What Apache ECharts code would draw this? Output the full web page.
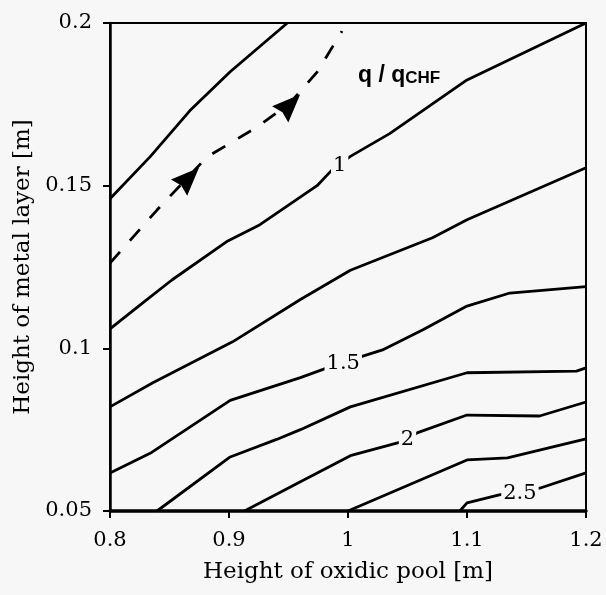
<!DOCTYPE html>
<html>
<head>
<meta charset="utf-8">
<script src="https://cdn.jsdelivr.net/npm/echarts@6/dist/echarts.min.js"></script>
<style>
  html, body { margin: 0; padding: 0; background: #f7f7f7; }
  #chart { width: 606px; height: 595px; }
</style>
</head>
<body>
<div id="chart"></div>
<script>
// contour lines of q/qCHF, [oxidic pool height, metal layer height]
var lvl075 = [[0.8, 0.146], [0.834, 0.159], [0.867, 0.173], [0.901, 0.185], [0.949, 0.2]];
var lvl100 = [[0.8, 0.106], [0.831, 0.115], [0.852, 0.121], [0.899, 0.133], [0.926, 0.138], [0.974, 0.150],
              [0.987, 0.155], [1.002, 0.159], [1.035, 0.166], [1.1, 0.1825], [1.2, 0.2]];
var lvl125 = [[0.8, 0.082], [0.836, 0.0894], [0.903, 0.102], [0.96, 0.115], [1.002, 0.124], [1.071, 0.134],
              [1.1, 0.1395], [1.2, 0.1555]];
var lvl150 = [[0.8, 0.0617], [0.835, 0.068], [0.901, 0.084], [0.96, 0.091], [0.99, 0.095], [1.029, 0.0995],
              [1.063, 0.1057], [1.1, 0.113], [1.136, 0.117], [1.2, 0.119]];
var lvl175 = [[0.8395, 0.05], [0.901, 0.0666], [0.94, 0.072], [0.96, 0.075], [1.002, 0.082], [1.1, 0.0925],
              [1.192, 0.093], [1.2, 0.094]];
var lvl200 = [[0.913, 0.05], [0.96, 0.059], [1.002, 0.067], [1.044, 0.0712], [1.058, 0.074], [1.1, 0.0795],
              [1.161, 0.0792], [1.2, 0.0835]];
var lvl225 = [[1.0, 0.05], [1.1, 0.0657], [1.134, 0.0663], [1.2, 0.0722]];
var lvl250 = [[1.094, 0.05], [1.1, 0.0525], [1.128, 0.055], [1.161, 0.057], [1.2, 0.0617]];

// dashed path with arrows
var pathLine = [[0.8, 0.1262], [0.8395, 0.1425], [0.8815, 0.1588], [0.9235, 0.168], [0.9513, 0.1754],
                [0.974, 0.1849], [0.995, 0.1975]];
var arrowPts = [[0.863, 0.1512], [0.948, 0.1737]];

// contour labels
var labelText = ['1', '1.5', '2', '2.5'];
var labelPos = [[0.993, 0.1562], [0.996, 0.0952], [1.05, 0.0719], [1.1445, 0.0553]];

var xTicks = [0.8, 1.2, 0.1];
var yTicks = [0.05, 0.2, 0.05];

var chart = echarts.init(document.getElementById('chart'));

var serif = 'DejaVu Serif';
var contours = [lvl075, lvl100, lvl125, lvl150, lvl175, lvl200, lvl225, lvl250];

var series = contours.map(function (d) {
  return {
    type: 'line',
    data: d,
    showSymbol: false,
    silent: true,
    lineStyle: { color: '#000', width: 2.8 },
    z: 2
  };
});

series.push({
  type: 'line',
  data: pathLine,
  showSymbol: false,
  silent: true,
  lineStyle: { color: '#000', width: 2.8, type: [15, 15] },
  z: 2
});

// arrowhead already pointing up-right
series.push({
  type: 'scatter',
  data: arrowPts,
  symbol: 'path://M20,0 L1,8 L8,12 L12,19 Z',
  symbolSize: [28, 28],
  itemStyle: { color: '#000', opacity: 1 },
  silent: true,
  z: 3
});

series.push({
  type: 'scatter',
  data: labelPos.map(function (p, i) { return { value: p, name: labelText[i] }; }),
  symbolSize: 0,
  silent: true,
  itemStyle: { opacity: 1 },
  label: {
    show: true,
    position: 'inside',
    formatter: '{b}',
    fontFamily: serif,
    fontSize: 21,
    color: '#000',
    opacity: 1,
    backgroundColor: '#f7f7f7',
    padding: [0, 2]
  },
  z: 5
});

var option = {
  backgroundColor: '#f7f7f7',
  animation: false,
  grid: {
    left: 110, right: 20, top: 23, bottom: 84,
    show: true,
    borderColor: '#000',
    borderWidth: 2,
    backgroundColor: 'transparent'
  },
  xAxis: {
    type: 'value',
    min: xTicks[0], max: xTicks[1], interval: xTicks[2],
    name: 'Height of oxidic pool [m]',
    nameLocation: 'middle',
    nameGap: 50,
    nameTextStyle: { fontFamily: serif, fontSize: 23, color: '#000' },
    axisLine: { show: true, lineStyle: { color: '#000', width: 3.5 } },
    axisTick: { show: true, length: 7, lineStyle: { color: '#000', width: 2 } },
    axisLabel: { fontFamily: serif, fontSize: 21, color: '#000', margin: 19 },
    splitLine: { show: false }
  },
  yAxis: {
    type: 'value',
    min: yTicks[0], max: yTicks[1], interval: yTicks[2],
    name: 'Height of metal layer [m]',
    nameLocation: 'middle',
    nameGap: 70,
    nameTextStyle: { fontFamily: serif, fontSize: 23, color: '#000' },
    axisLine: { show: true, lineStyle: { color: '#000', width: 2.5 } },
    axisTick: { show: true, length: 7, lineStyle: { color: '#000', width: 2 } },
    axisLabel: { fontFamily: serif, fontSize: 21, color: '#000', margin: 18 },
    splitLine: { show: false }
  },
  graphic: [{
    type: 'text',
    left: 358,
    top: 64,
    style: {
      text: '{a|q / q}{b|CHF}',
      rich: {
        a: { fontFamily: 'Liberation Sans', fontSize: 23, fontWeight: 'bold', fill: '#000', verticalAlign: 'bottom' },
        b: { fontFamily: 'Liberation Sans', fontSize: 17, fontWeight: 'bold', fill: '#000', padding: [9, 0, 0, 0], verticalAlign: 'bottom' }
      }
    }
  }],
  series: series
};

chart.setOption(option);
</script>
</body>
</html>
